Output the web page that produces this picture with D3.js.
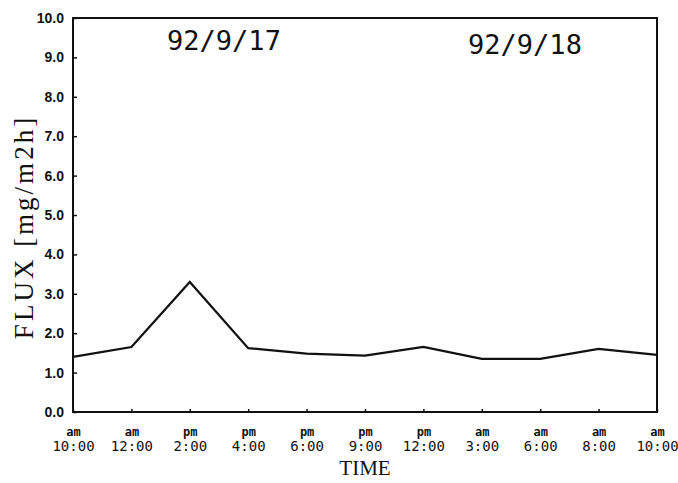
<!DOCTYPE html>
<html>
<head>
<meta charset="utf-8">
<script src="https://cdn.jsdelivr.net/npm/d3@7"></script>
<style>
  body { margin: 0; background: #fff; }
  svg { display: block; }
</style>
</head>
<body>
<svg class="flux-chart"></svg>
<script>
// readings every 2-3 hours, 92/9/17 10:00 am -> 92/9/18 10:00 am
var timeLabels = ["10:00", "12:00", "2:00", "4:00", "6:00", "9:00", "12:00", "3:00", "6:00", "8:00", "10:00"];
var ampm = ["am", "am", "pm", "pm", "pm", "pm", "pm", "am", "am", "am", "am"];
var flux = [1.4, 1.65, 3.3, 1.62, 1.48, 1.43, 1.65, 1.35, 1.35, 1.6, 1.45];
var yTicks = [0, 1, 2, 3, 4, 5, 6, 7, 8, 9, 10];
var dates = ["92/9/17", "92/9/18"];

var svgWidth = 678, svgHeight = 483;
var margin = { top: 18, right: 21, bottom: 71, left: 73 };
var width = svgWidth - margin.left - margin.right;
var height = svgHeight - margin.top - margin.bottom;

var svg = d3.select("svg.flux-chart")
    .attr("width", svgWidth)
    .attr("height", svgHeight);

var g = svg.append("g")
    .attr("transform", "translate(" + margin.left + "," + margin.top + ")");

var x = d3.scaleLinear()
    .domain([0, timeLabels.length - 1])
    .range([0, width]);

var y = d3.scaleLinear()
    .domain([0, 10])
    .range([height, 0]);

// y axis, ticks pointing inward
var yAxis = g.append("g")
    .call(d3.axisLeft(y)
      .tickValues(yTicks)
      .tickSizeInner(-4)
      .tickSizeOuter(0)
      .tickPadding(9)
      .tickFormat(d3.format(".1f")));
yAxis.select(".domain").remove();
yAxis.selectAll("line").attr("stroke", "#111").attr("stroke-width", 1.5);
yAxis.selectAll("text")
    .attr("fill", "#111")
    .style("font-family", "'Liberation Sans', Arial, sans-serif")
    .style("font-weight", "bold")
    .style("font-size", "14px");

// x axis
var xAxis = g.append("g")
    .attr("transform", "translate(0," + height + ")")
    .call(d3.axisBottom(x)
      .tickValues(d3.range(timeLabels.length))
      .tickSizeInner(-3)
      .tickSizeOuter(0)
      .tickPadding(29)
      .tickFormat(function(i) { return timeLabels[i]; }));
xAxis.select(".domain").remove();
xAxis.selectAll("line").attr("stroke", "#111").attr("stroke-width", 1.5);
xAxis.selectAll("text")
    .attr("fill", "#111")
    .style("font-family", "'DejaVu Sans Mono', monospace")
    .style("font-size", "14px");

xAxis.selectAll(".tick")
  .append("text")
    .attr("y", 24)
    .attr("fill", "#111")
    .attr("text-anchor", "middle")
    .style("font-family", "'DejaVu Sans Mono', monospace")
    .style("font-weight", "bold")
    .style("font-size", "12px")
    .text(function(i) { return ampm[i]; });

// frame
g.append("rect")
    .attr("width", width)
    .attr("height", height)
    .attr("fill", "none")
    .attr("stroke", "#111")
    .attr("stroke-width", 2);

var line = d3.line()
    .x(function(d, i) { return x(i); })
    .y(function(d) { return y(d); });

g.append("path")
    .datum(flux)
    .attr("fill", "none")
    .attr("stroke", "#111")
    .attr("stroke-width", 2.2)
    .attr("stroke-linejoin", "miter")
    .attr("d", line);

// date captions
g.selectAll(".date")
  .data(dates)
  .enter().append("text")
    .attr("class", "date")
    .attr("x", function(d, i) { return i === 0 ? 151 : 452; })
    .attr("y", function(d, i) { return i === 0 ? 32 : 36; })
    .attr("text-anchor", "middle")
    .attr("fill", "#111")
    .style("font-family", "'DejaVu Sans Mono', monospace")
    .style("font-size", "27px")
    .text(function(d) { return d; });

// axis titles
svg.append("text")
    .attr("transform", "translate(33,227) rotate(-90)")
    .attr("text-anchor", "middle")
    .attr("fill", "#111")
    .style("font-family", "'Liberation Serif', 'Times New Roman', serif")
    .style("font-size", "27px")
    .style("letter-spacing", "3px")
    .text("FLUX [mg/m2h]");

svg.append("text")
    .attr("x", margin.left + width / 2)
    .attr("y", 475)
    .attr("text-anchor", "middle")
    .attr("fill", "#111")
    .style("font-family", "'Liberation Serif', 'Times New Roman', serif")
    .style("font-size", "21px")
    .text("TIME");
</script>
</body>
</html>
